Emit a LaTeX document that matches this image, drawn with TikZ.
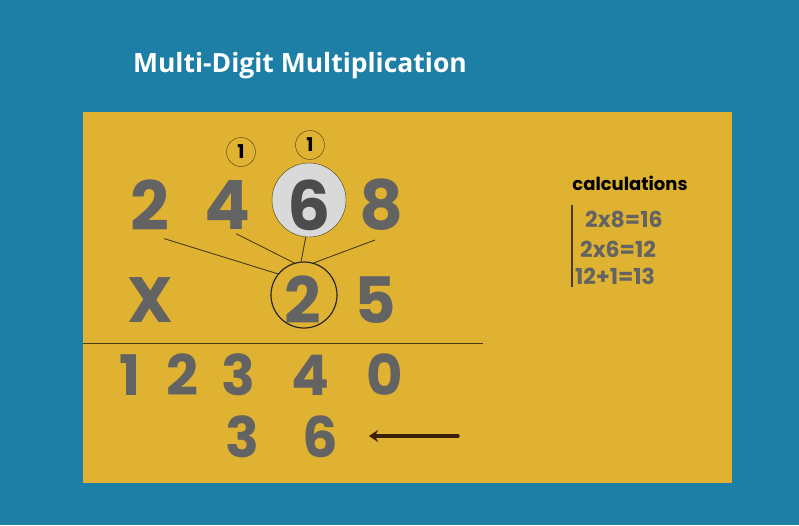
\documentclass[tikz,border=0pt]{standalone}
\usepackage{fontspec}
\setmainfont{Poppins}
\newfontfamily\titlefont{Open Sans}
\usetikzlibrary{arrows.meta}

\definecolor{bgblue}{HTML}{1E7FA6}
\definecolor{panel}{HTML}{E0B232}
\definecolor{digitgray}{HTML}{636363}
\definecolor{olive}{HTML}{4A3C12}
\definecolor{arrowbrown}{HTML}{3B1E0C}
\definecolor{lightcirc}{HTML}{D9D9D9}

\tikzset{
  digit/.style={inner sep=0pt, text=digitgray, font=\fontsize{68}{68}\selectfont\bfseries},
  middigit/.style={digit, font=\fontsize{64}{64}\selectfont\bfseries},
  lowdigit/.style={digit, font=\fontsize{56}{56}\selectfont\bfseries},
  carry/.style={circle, draw=olive, thin, minimum size=29pt, inner sep=0pt,
    font=\fontsize{19}{19}\selectfont\bfseries},
  calc/.style={anchor=west, inner sep=0pt, text=digitgray, font=\fontsize{22}{22}\selectfont\bfseries},
  link/.style={olive, line width=0.9pt}
}

\begin{document}
\begin{tikzpicture}[x=1pt, y=-1pt, >=Stealth]
  \useasboundingbox (0,0) rectangle (799,525);
  % background and panel
  \fill[bgblue] (0,0) rectangle (799,525);
  \fill[panel] (83,112) rectangle (732,483);
  \node[text=white, font=\titlefont\bfseries\fontsize{26.5}{26.5}\selectfont] (title) at (300,66) {Multi-Digit Multiplication};

  % top factor
  \node[circle, draw=olive, fill=lightcirc, minimum size=74pt, inner sep=0pt] (c6) at (309,200) {};
  \node[digit] (t1) at (150,205) {2};
  \node[digit] (t2) at (228,205) {4};
  \node[digit, text=black!70] (t3) at (309,205) {6};
  \node[digit] (t4) at (382,205) {8};
  % carries
  \node[carry] (k1) at (241,152) {1};
  \node[carry] (k2) at (310,145) {1};

  % second factor
  \node[middigit] (m0) at (150,300) {X};
  \node[middigit] (m2) at (303,300) {2};
  \node[middigit] (m1) at (375,300) {5};
  \node[circle, draw=black!85, line width=1.2pt, minimum size=66pt, inner sep=0pt] (o2) at (304,295) {};

  % cross links to the circled 2
  \draw[link] ([shift={(14,8)}]t1.south) -- (o2.141);
  \draw[link] ([shift={(8,4)}]t2.south) -- (o2.107);
  \draw[link] (c6.265) -- (o2.95);
  \draw[link] ([shift={(-7,9)}]t4.south) -- (o2.73);

  % rule
  \coordinate (r0) at (83,343);
  \coordinate (r1) at (483,343);
  \draw[olive, line width=1pt] (r0) -- (r1);

  % partial products
  \node[lowdigit] (p1) at (130,375) {1};
  \node[lowdigit] (p2) at (182,375) {2};
  \node[lowdigit] (p3) at (238,375) {3};
  \node[lowdigit] (p4) at (310,375) {4};
  \node[lowdigit] (p5) at (385,375) {0};
  \node[lowdigit] (q1) at (242,437) {3};
  \node[lowdigit] (q2) at (320,437) {6};
  \coordinate (a0) at (458,436);
  \coordinate (a1) at (369,436);
  \draw[arrowbrown, line width=3.5pt, line cap=round, arrows={-Stealth[length=9pt, width=12pt]}] (a0) -- (a1);

  % calculations
  \node[font=\fontsize{18}{18}\selectfont\bfseries] (ch) at (630,183) {calculations};
  \coordinate (b0) at (572,205);
  \coordinate (b1) at (572,287);
  \draw[olive, line width=1.3pt] (b0) -- (b1);
  \node[calc] (e1) at (585,219) {2x8=16};
  \node[calc] (e2) at (580,249) {2x6=12};
  \node[calc] (e3) at (575,276) {12+1=13};
\end{tikzpicture}
\end{document}
